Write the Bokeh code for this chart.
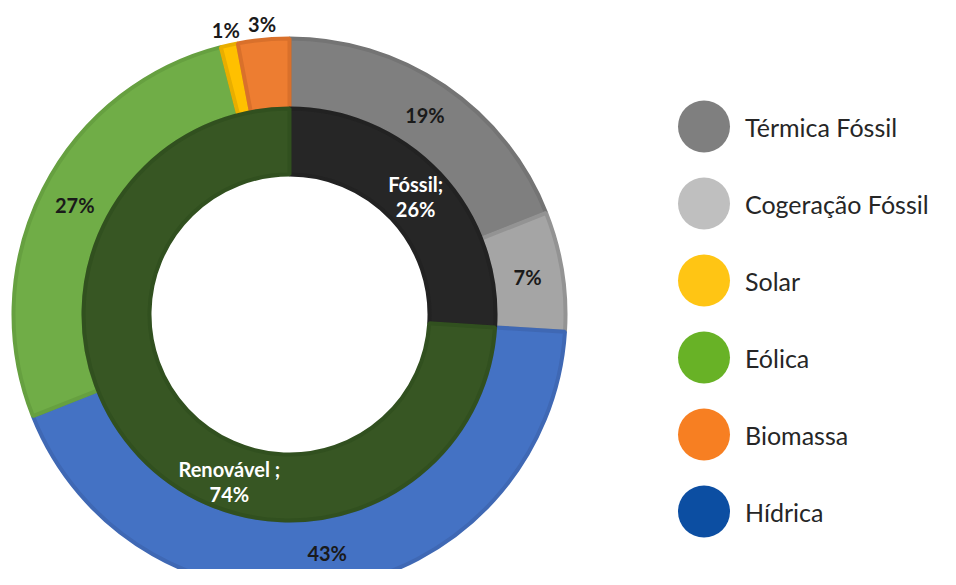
import math
from bokeh.plotting import figure
from bokeh.models import Range1d
from bokeh.core.properties import value
from bokeh.embed import file_html
from bokeh.resources import INLINE

# ---- data ----
outer_labels = ["Térmica Fóssil", "Cogeração Fóssil", "Hídrica", "Eólica", "Solar", "Biomassa"]
outer_values = [19, 7, 43, 27, 1, 3]
inner_labels = ["Fóssil", "Renovável"]
inner_values = [26, 74]
inner_label_text = ["Fóssil;", "Renovável ;"]
legend_labels = ["Térmica Fóssil", "Cogeração Fóssil", "Solar", "Eólica", "Biomassa", "Hídrica"]

# ---- styles ----
outer_fill = {"Térmica Fóssil": "#7f7f7f", "Cogeração Fóssil": "#a5a5a5", "Hídrica": "#4472c4",
              "Eólica": "#70ad47", "Solar": "#ffc000", "Biomassa": "#ed7d31"}
outer_line = {"Térmica Fóssil": "#747474", "Cogeração Fóssil": "#939393", "Hídrica": "#3f68b4",
              "Eólica": "#66a040", "Solar": "#e8ae00", "Biomassa": "#d9702b"}
inner_fill = {"Fóssil": "#262626", "Renovável": "#375623"}
inner_line = {"Fóssil": "#222222", "Renovável": "#31501f"}
legend_colors = {"Térmica Fóssil": "#7f7f7f", "Cogeração Fóssil": "#bfbfbf", "Solar": "#ffc514",
                 "Eólica": "#68b226", "Biomassa": "#f77f22", "Hídrica": "#0c4ea2"}

W, H = 940, 569
CX, CY = 289, -314
R_OUT, R_MID, R_IN = 276, 206, 140

p = figure(width=W, height=H, output_backend="svg", toolbar_location=None,
           x_range=Range1d(0, W), y_range=Range1d(-H, 0), min_border=0)
p.axis.visible = False
p.grid.visible = False
p.outline_line_color = None
p.background_fill_color = "white"
p.border_fill_color = "white"


def ring(labels, values, r0, r1, fills, lines):
    total = float(sum(values))
    cum = 0.0
    starts, ends, mids = [], [], []
    for v in values:
        a0 = cum / total
        cum += v
        a1 = cum / total
        starts.append(math.pi / 2 - a0 * 2 * math.pi)
        ends.append(math.pi / 2 - a1 * 2 * math.pi)
        mids.append((a0 + a1) / 2 * 2 * math.pi)
    p.annular_wedge(x=[CX] * len(values), y=[CY] * len(values), inner_radius=r0, outer_radius=r1,
                    start_angle=starts, end_angle=ends, direction="clock",
                    fill_color=[fills[l] for l in labels], line_color=[lines[l] for l in labels],
                    line_width=4)
    return mids


outer_mids = ring(outer_labels, outer_values, R_MID, R_OUT, outer_fill, outer_line)
inner_mids = ring(inner_labels, inner_values, R_IN, R_MID, inner_fill, inner_line)

# outer data labels
lx, ly, lt = [], [], []
for lab, v, m in zip(outer_labels, outer_values, outer_mids):
    r = (R_MID + R_OUT) / 2 if v >= 5 else R_OUT + 16
    lx.append(CX + r * math.sin(m))
    ly.append(CY + r * math.cos(m))
    lt.append(f"{v}%")
p.text(x=lx, y=ly, text=lt, text_align="center", text_baseline="middle",
       text_font=value("Lato"), text_font_style="bold", text_font_size="20px", text_color="#1a1a1a")

# inner data labels (the Renovável label is shifted along the ring, as in the source)
angle_shift = [0.0, -0.47]
r_lab = [(R_IN + R_MID) / 2, 177]
ix, iy = [], []
for m, s, r in zip(inner_mids, angle_shift, r_lab):
    ix.append(CX + r * math.sin(m + s))
    iy.append(CY + r * math.cos(m + s))
p.text(x=ix, y=iy, text=inner_label_text, text_align="center", text_baseline="middle", y_offset=-12,
       text_font=value("Lato"), text_font_style="bold", text_font_size="20px", text_color="white")
p.text(x=ix, y=iy, text=[f"{v}%" for v in inner_values], text_align="center", text_baseline="middle",
       y_offset=13, text_font=value("Lato"), text_font_style="bold", text_font_size="20px",
       text_color="white")

# legend
LX, LY0, LDY = 703.5, -126, -77
gx = [LX] * len(legend_labels)
gy = [LY0 + i * LDY for i in range(len(legend_labels))]
p.scatter(x=gx, y=gy, size=52, marker="circle", fill_color=[legend_colors[l] for l in legend_labels],
          line_color=None)
p.text(x=[LX + 41] * len(legend_labels), y=gy, text=legend_labels, text_align="left",
       text_baseline="middle", text_font=value("Lato"), text_font_size="25px", text_color="#262626")

open("out.html", "w").write(file_html(p, INLINE))
